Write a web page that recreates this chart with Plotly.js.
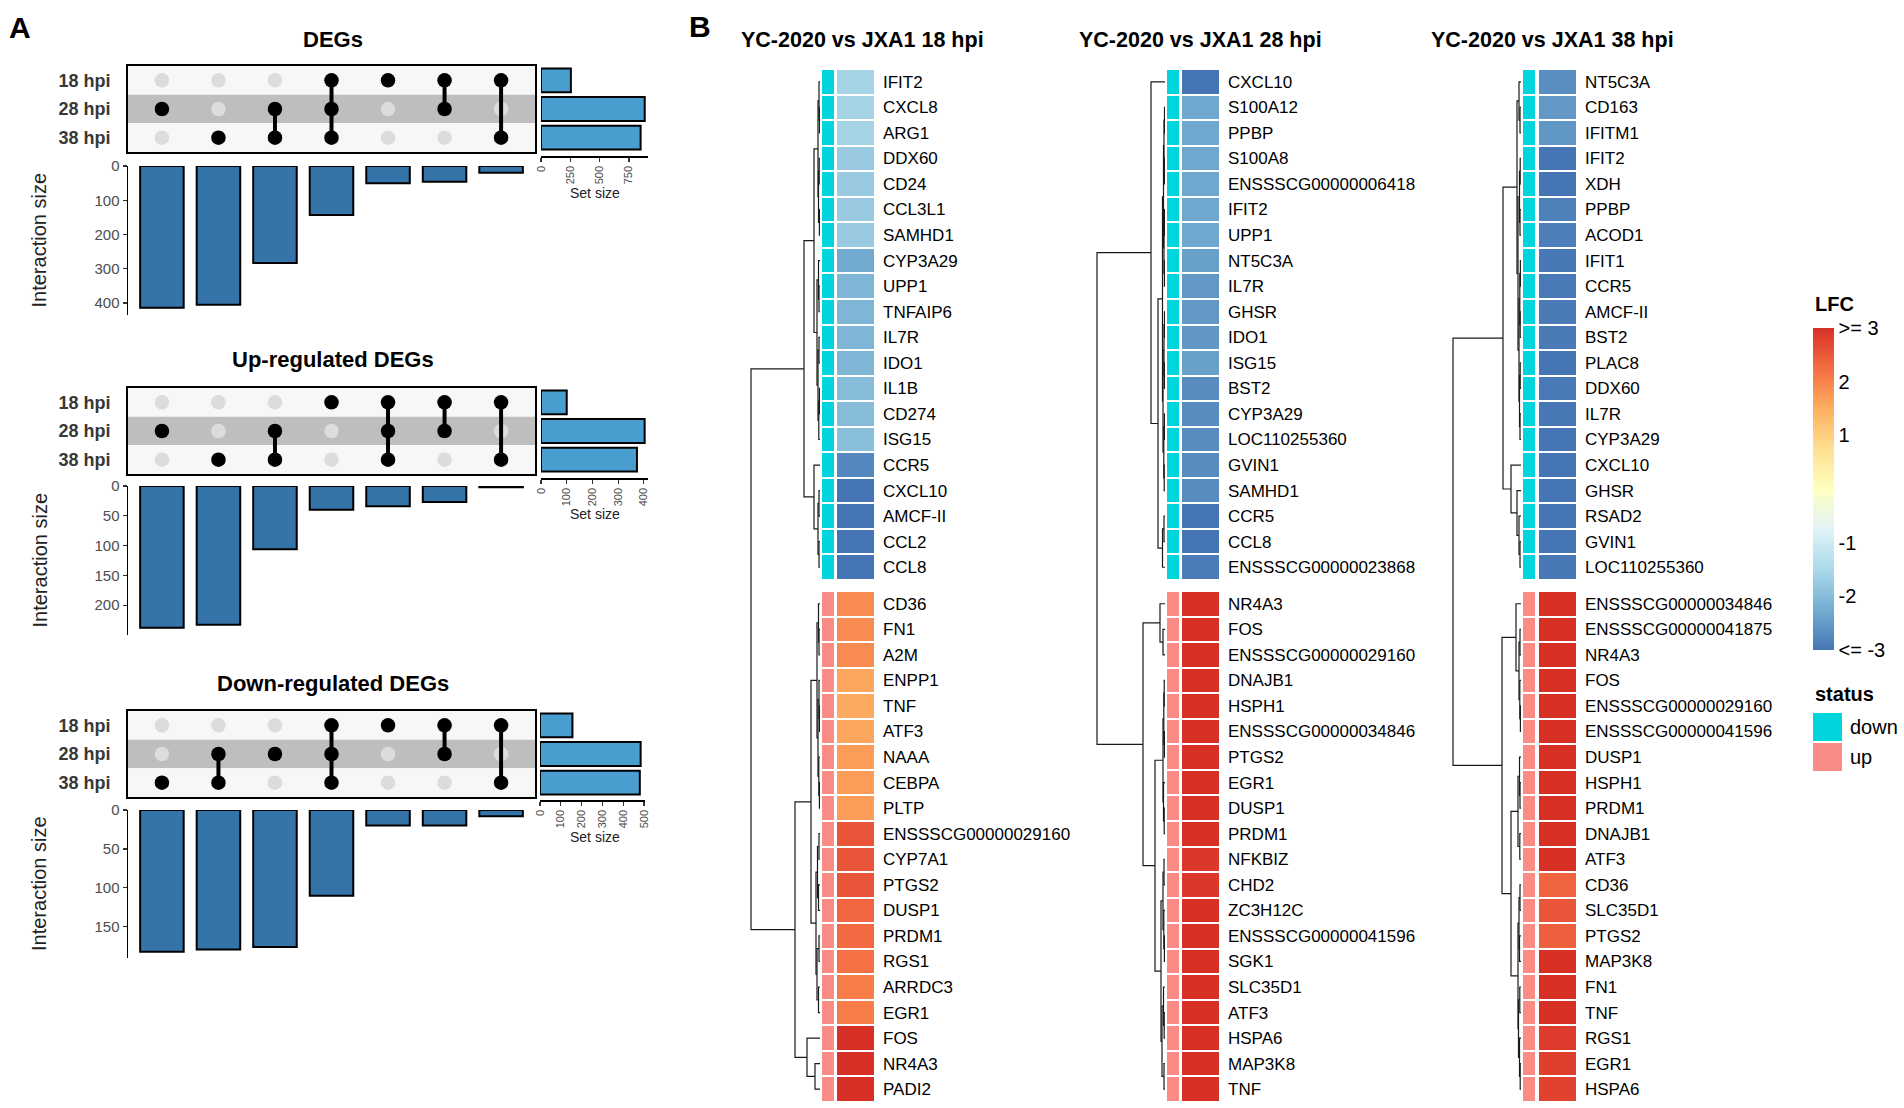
<!DOCTYPE html>
<html><head><meta charset="utf-8">
<script src="https://cdn.plot.ly/plotly-3.0.1.min.js"></script>
<style>html,body{margin:0;padding:0;background:#fff;}#chart{width:1904px;height:1108px;}</style>
</head><body><div id="chart"></div>
<script>
// ================= DATA: panel A (UpSet) =================
const setNames = ['18 hpi', '28 hpi', '38 hpi'];
// DEGs
const degInter = [414, 405, 283, 143, 50, 46, 20];
const degSet = [255, 885, 850];
const deg18 = [0, 0, 0, 1, 1, 1, 1];
const deg28 = [1, 0, 1, 1, 0, 1, 0];
const deg38 = [0, 1, 1, 1, 0, 0, 1];
const degInterTicks = [0, 100, 200, 300, 400];
const degSetTicks = [0, 250, 500, 750];
// Up-regulated
const upInter = [238, 233, 106, 40, 34, 27, 2];
const upSet = [100, 403, 373];
const up18 = [0, 0, 0, 1, 1, 1, 1];
const up28 = [1, 0, 1, 0, 1, 1, 0];
const up38 = [0, 1, 1, 0, 1, 0, 1];
const upInterTicks = [0, 50, 100, 150, 200];
const upSetTicks = [0, 100, 200, 300, 400];
// Down-regulated
const dnInter = [182, 179, 176, 110, 20, 20, 8];
const dnSet = [156, 484, 480];
const dn18 = [0, 0, 0, 1, 1, 1, 1];
const dn28 = [0, 1, 1, 1, 0, 1, 0];
const dn38 = [1, 1, 0, 1, 0, 0, 1];
const dnInterTicks = [0, 50, 100, 150];
const dnSetTicks = [0, 100, 200, 300, 400, 500];

// ================= DATA: panel B (heatmaps) =================
const hm1DownGenes = ['IFIT2','CXCL8','ARG1','DDX60','CD24','CCL3L1','SAMHD1','CYP3A29','UPP1','TNFAIP6','IL7R','IDO1','IL1B','CD274','ISG15','CCR5','CXCL10','AMCF-II','CCL2','CCL8'];
const hm1DownLFC = [-1.6,-1.6,-1.6,-1.75,-1.75,-1.75,-1.75,-2.3,-2.1,-2.1,-2.1,-2.1,-2.0,-2.0,-1.95,-2.75,-3,-3,-3,-3];
const hm1UpGenes = ['CD36','FN1','A2M','ENPP1','TNF','ATF3','NAAA','CEBPA','PLTP','ENSSSCG00000029160','CYP7A1','PTGS2','DUSP1','PRDM1','RGS1','ARRDC3','EGR1','FOS','NR4A3','PADI2'];
const hm1UpLFC = [1.9,1.9,1.9,1.6,1.55,1.6,1.7,1.7,1.7,2.55,2.55,2.55,2.33,2.3,2.2,2.08,2.08,3,3,3];

const hm2DownGenes = ['CXCL10','S100A12','PPBP','S100A8','ENSSSCG00000006418','IFIT2','UPP1','NT5C3A','IL7R','GHSR','IDO1','ISG15','BST2','CYP3A29','LOC110255360','GVIN1','SAMHD1','CCR5','CCL8','ENSSSCG00000023868'];
const hm2DownLFC = [-3,-2.33,-2.33,-2.33,-2.33,-2.33,-2.33,-2.42,-2.54,-2.54,-2.56,-2.42,-2.7,-2.7,-2.7,-2.7,-2.7,-3,-3,-2.9];
const hm2UpGenes = ['NR4A3','FOS','ENSSSCG00000029160','DNAJB1','HSPH1','ENSSSCG00000034846','PTGS2','EGR1','DUSP1','PRDM1','NFKBIZ','CHD2','ZC3H12C','ENSSSCG00000041596','SGK1','SLC35D1','ATF3','HSPA6','MAP3K8','TNF'];
const hm2UpLFC = [3,3,3,3,3,3,3,3,3,3,2.9,2.9,3,3,3,3,3,3,3,3];

const hm3DownGenes = ['NT5C3A','CD163','IFITM1','IFIT2','XDH','PPBP','ACOD1','IFIT1','CCR5','AMCF-II','BST2','PLAC8','DDX60','IL7R','CYP3A29','CXCL10','GHSR','RSAD2','GVIN1','LOC110255360'];
const hm3DownLFC = [-2.67,-2.54,-2.55,-3,-3,-2.85,-2.88,-2.95,-2.93,-2.92,-2.92,-3,-2.93,-2.97,-3,-3,-3,-3,-3,-2.97];
const hm3UpGenes = ['ENSSSCG00000034846','ENSSSCG00000041875','NR4A3','FOS','ENSSSCG00000029160','ENSSSCG00000041596','DUSP1','HSPH1','PRDM1','DNAJB1','ATF3','CD36','SLC35D1','PTGS2','MAP3K8','FN1','TNF','RGS1','EGR1','HSPA6'];
const hm3UpLFC = [3,3,3,3,3,3,3,3,3,3,3,2.35,2.55,2.42,3,3,3,2.85,2.8,2.78];

// dendrograms: [merge height, left, right]; leaves = row index (0-19 down, 20-39 up)
const hm1Tree = [69,
  [16,
    [6, [2, [1, 0, [0.5, 1, 2]], [1.5, [0.8, 3, 4], [0.6, 5, 6]]],
        [3, [1.5, 7, [1, 8, 9]], [2, [1, 10, 11], [1.2, [0.6, 12, 13], 14]]]],
    [6, 15, [2, [1, 16, 17], [1, 18, 19]]]],
  [25,
    [9, [3, [1.5, 20, [1, 21, 22]], [2, [1, 23, [0.5, 24, 25]], [1.2, 26, [0.6, 27, 28]]]],
        [4, [2.5, [1, 29, 30], [1.5, 31, 32]], [3, [1, 33, 34], [1.5, 35, 36]]]],
    [13, 37, [5, 38, 39]]]];
const hm2Tree = [68,
  [14, 0,
    [7, [2.5, [1.5, [1, [0.5, 1, 2], [0.6, 3, 4]], [1, [0.5, 5, 6], [0.6, 7, 8]]],
             [2, [1, [0.5, 9, 10], [0.6, 11, 12]], [1.2, [0.6, 13, 14], [0.8, 15, 16]]]],
        [2.5, [1, 17, 18], 19]]],
  [22,
    [5, 20, [2, 21, 22]],
    [10, [2, [1.2, [0.8, 23, 24], [0.6, 25, 26]], [1.5, 27, [0.8, 28, 29]]],
         [4, [2, [1, 30, 31], [1.2, 32, [0.6, 33, 34]]], [3, [1.5, 35, [0.8, 36, 37]], [1, 38, 39]]]]]];
const hm3Tree = [68,
  [18,
    [4, [2, 0, [1, 1, 2]],
        [3, [1.5, [0.8, 3, 4], [1, 5, 6]], [2, [1.2, [0.6, 7, 8], [0.8, 9, 10]], [1.5, [0.8, 11, 12], [1, 13, 14]]]]],
    [10, 15, [4, 16, [2, 17, [1, 18, 19]]]]],
  [19,
    [5, 20, [2, [1, 21, 22], [1.2, 23, [0.6, 24, 25]]]],
    [10, [3, [1.5, 26, [1, 27, 28]], [1.2, 29, 30]],
         [3, [2, [1, 31, 32], [1.5, 33, 34]], [2.5, [1.2, 35, 36], [1.5, 37, [0.8, 38, 39]]]]]]];

const lfcTickVals = [3, 2, 1, -1, -2, -3];
const lfcTickText = ['&gt;= 3', '2', '1', '-1', '-2', '&lt;= -3'];
const statusNames = ['down', 'up'];

// ================= STYLE / LAYOUT HELPERS =================
const W = 1904, H = 1108;
const FONT = 'Liberation Sans, Arial, Helvetica, sans-serif';
const dx = (a, b) => [a / W, b / W];
const dy = (top, bot) => [1 - bot / H, 1 - top / H];
const xn = i => i === 1 ? 'x' : 'x' + i;
const yn = i => i === 1 ? 'y' : 'y' + i;
const xk = i => i === 1 ? 'xaxis' : 'xaxis' + i;
const yk = i => i === 1 ? 'yaxis' : 'yaxis' + i;
const CYAN = '#00D5DD', PINK = '#FA8B85';
const lfcScale = [[0, '#4575b4'], [0.125, '#74add1'], [0.25, '#abd9e9'], [0.375, '#e0f3f8'], [0.5, '#ffffbf'],
                  [0.625, '#fee090'], [0.75, '#fdae61'], [0.875, '#f46d43'], [1, '#d73027']];
const statusScale = [[0, CYAN], [0.5, CYAN], [0.5, PINK], [1, PINK]];

const traces = [];
const layout = {
  width: W, height: H, margin: {l: 0, r: 0, t: 0, b: 0},
  paper_bgcolor: '#fff', plot_bgcolor: 'rgba(0,0,0,0)',
  showlegend: false, hovermode: false,
  font: {family: FONT, color: '#000'},
  shapes: [], annotations: []
};
function ann(text, x, y, size, extra) {
  layout.annotations.push(Object.assign({
    text, x: x / W, y: 1 - y / H, xref: 'paper', yref: 'paper', showarrow: false,
    xanchor: 'center', yanchor: 'middle', font: {family: FONT, size, color: '#000'}
  }, extra || {}));
}

// ================= PANEL A =================
function addUpset(k, inter, sets, mem, interTicks, interMax, setTicks, setMax, P) {
  const m = 3 * k + 1, s = 3 * k + 2, it = 3 * k + 3;
  const cols = inter.map((_, i) => i + 1);
  const rows = setNames.map((_, i) => i + 1);
  const mx = dx(128, 535);
  layout[xk(m)] = {domain: mx, range: [0.4, cols.length + 0.6], anchor: yn(m), showline: true, mirror: true,
    linewidth: 2, linecolor: '#000', showticklabels: false, ticks: '', showgrid: false, zeroline: false};
  layout[yk(m)] = {domain: dy(P.mTop, P.mBot), range: [rows.length + 0.5, 0.5], anchor: xn(m), showline: true,
    mirror: true, linewidth: 2, linecolor: '#000', ticks: '', showgrid: false, zeroline: false,
    tickvals: rows, ticktext: setNames.map(t => '<b>' + t + '</b>'), ticklabelstandoff: 12,
    tickfont: {family: FONT, size: 18, color: '#383838'}};
  rows.forEach(r => layout.shapes.push({type: 'rect', xref: xn(m) + ' domain', yref: yn(m), x0: 0, x1: 1,
    y0: r - 0.5, y1: r + 0.5, fillcolor: r === 2 ? '#bebebe' : '#f7f7f7', line: {width: 0}, layer: 'below'}));
  const ix = [], iy = [], ax = [], ay = [], lx = [], ly = [];
  cols.forEach((c, j) => {
    const act = [];
    mem.forEach((row, r) => {
      if (row[j]) { ax.push(c); ay.push(r + 1); act.push(r + 1); } else { ix.push(c); iy.push(r + 1); }
    });
    if (act.length > 1) { lx.push(c, c, null); ly.push(Math.min(...act), Math.max(...act), null); }
  });
  traces.push({type: 'scatter', mode: 'markers', x: ix, y: iy, xaxis: xn(m), yaxis: yn(m),
    marker: {size: 14.5, color: '#dcdcdc'}, cliponaxis: false});
  traces.push({type: 'scatter', mode: 'lines', x: lx, y: ly, xaxis: xn(m), yaxis: yn(m),
    line: {color: '#000', width: 4}});
  traces.push({type: 'scatter', mode: 'markers', x: ax, y: ay, xaxis: xn(m), yaxis: yn(m),
    marker: {size: 14.5, color: '#000'}});
  layout[xk(s)] = {domain: dx(P.sLeft, P.sRight), range: [0, setMax], anchor: 'free', position: 1 - P.sAxis / H,
    showline: true, linewidth: 1.5, linecolor: '#000', ticks: 'outside', ticklen: 4, tickwidth: 1.2,
    tickcolor: '#333', tickvals: setTicks, tickangle: -90, tickfont: {family: FONT, size: 11, color: '#4d4d4d'},
    showgrid: false, zeroline: false};
  layout[yk(s)] = {domain: dy(P.mTop, P.mBot), range: [rows.length + 0.5, 0.5], anchor: xn(s), visible: false};
  traces.push({type: 'bar', orientation: 'h', x: sets, y: rows, width: 0.83, xaxis: xn(s), yaxis: yn(s),
    marker: {color: '#4A9ECF', line: {color: '#000', width: 2}}});
  layout[xk(it)] = {domain: mx, range: [0.4, cols.length + 0.6], anchor: yn(it), visible: false};
  layout[yk(it)] = {domain: dy(P.iTop, P.iBot), range: [interMax, 0], anchor: xn(it), showline: true,
    linewidth: 1.5, linecolor: '#000', ticks: 'outside', ticklen: 4, tickwidth: 1.2, tickcolor: '#333',
    tickvals: interTicks, tickfont: {family: FONT, size: 15, color: '#4d4d4d'}, showgrid: false, zeroline: false};
  traces.push({type: 'bar', x: cols, y: inter, width: 0.77, xaxis: xn(it), yaxis: yn(it),
    marker: {color: '#3474A9', line: {color: '#000', width: 2}}});
  ann('<b>' + P.title + '</b>', 333, P.titleY, 22);
  ann('Interaction size', 39, (P.iTop + P.iBot) / 2, 20, {textangle: -90, font: {family: FONT, size: 20, color: '#222'}});
  ann('Set size', 595, P.setLabelY, 14, {font: {family: FONT, size: 14, color: '#222'}});
}
addUpset(0, degInter, degSet, [deg18, deg28, deg38], degInterTicks, 435, degSetTicks, 913,
  {mTop: 66, mBot: 152, sAxis: 156, iTop: 166, iBot: 315, sLeft: 541, sRight: 648, titleY: 40, setLabelY: 193, title: 'DEGs'});
addUpset(1, upInter, upSet, [up18, up28, up38], upInterTicks, 250, upSetTicks, 416,
  {mTop: 388, mBot: 474, sAxis: 478, iTop: 486, iBot: 635, sLeft: 541, sRight: 648, titleY: 360, setLabelY: 514, title: 'Up-regulated DEGs'});
addUpset(2, dnInter, dnSet, [dn18, dn28, dn38], dnInterTicks, 190, dnSetTicks, 505,
  {mTop: 711, mBot: 797, sAxis: 800, iTop: 810, iBot: 958, sLeft: 540, sRight: 645, titleY: 683, setLabelY: 837, title: 'Down-regulated DEGs'});

// ================= PANEL B =================
const GAP = 0.43;
const rowPos = i => i < 20 ? i : i + GAP;
function dendroLines(tree) {
  const xs = [], ys = [];
  (function walk(n) {
    if (typeof n === 'number') return {y: rowPos(n), h: 0};
    const a = walk(n[1]), b = walk(n[2]), h = n[0];
    xs.push(a.h, h, h, b.h, null); ys.push(a.y, a.y, b.y, b.y, null);
    return {y: (a.y + b.y) / 2, h};
  })(tree);
  return {xs, ys};
}
function addHeatmap(idx, downGenes, downLFC, upGenes, upLFC, tree, P) {
  const xd = 10 + idx * 3, xs = xd + 1, xl = xd + 2, yy = 10 + idx;
  const downPos = downGenes.map((_, i) => rowPos(i));
  const upPos = upGenes.map((_, i) => rowPos(i + downGenes.length));
  const yDom = dy(69, 1102);
  layout[yk(yy)] = {domain: yDom, range: [39.5 + GAP, -0.5], anchor: xn(xl), side: 'right',
    tickvals: downPos.concat(upPos), ticktext: downGenes.concat(upGenes), ticks: '', showline: false,
    showgrid: false, zeroline: false, ticklabelstandoff: 8, tickfont: {family: FONT, size: 17, color: '#000'}};
  layout[xk(xd)] = {domain: dx(P.leaf - 75, P.leaf), range: [75, 0], anchor: yn(yy), visible: false};
  layout[xk(xs)] = {domain: dx(P.st, P.st + 12), range: [-0.5, 0.5], anchor: yn(yy), visible: false};
  layout[xk(xl)] = {domain: dx(P.lf, P.lf + 37), range: [-0.5, 0.5], anchor: yn(yy), visible: false};
  const d = dendroLines(tree);
  traces.push({type: 'scatter', mode: 'lines', x: d.xs, y: d.ys, xaxis: xn(xd), yaxis: yn(yy),
    line: {color: '#1a1a1a', width: 1.2}, cliponaxis: false});
  [[downPos, 0], [upPos, 1]].forEach(([pos, st]) => {
    traces.push({type: 'heatmap', x: [0], y: pos, z: pos.map(() => [st]), zmin: 0, zmax: 1,
      colorscale: statusScale, showscale: false, ygap: 2, xaxis: xn(xs), yaxis: yn(yy)});
  });
  [[downPos, downLFC], [upPos, upLFC]].forEach(([pos, v], bi) => {
    const t = {type: 'heatmap', x: [0], y: pos, z: v.map(q => [q]), zmin: -3, zmax: 3, colorscale: lfcScale,
      showscale: false, ygap: 2, xaxis: xn(xl), yaxis: yn(yy)};
    if (idx === 0 && bi === 0) {
      t.showscale = true;
      t.colorbar = {x: 1813 / W, xanchor: 'left', y: 1 - 328 / H, yanchor: 'top', len: 322, lenmode: 'pixels',
        thickness: 21, thicknessmode: 'pixels', outlinewidth: 0, ticks: '', xpad: 0, ypad: 0,
        tickvals: lfcTickVals, ticktext: lfcTickText, tickfont: {family: FONT, size: 20, color: '#000'}};
    }
    traces.push(t);
  });
  ann('<b>' + P.title + '</b>', P.tx, 40, 21.5);
}
addHeatmap(0, hm1DownGenes, hm1DownLFC, hm1UpGenes, hm1UpLFC, hm1Tree, {leaf: 820, st: 822, lf: 837, tx: 862, title: 'YC-2020 vs JXA1 18 hpi'});
addHeatmap(1, hm2DownGenes, hm2DownLFC, hm2UpGenes, hm2UpLFC, hm2Tree, {leaf: 1165, st: 1167, lf: 1182, tx: 1200, title: 'YC-2020 vs JXA1 28 hpi'});
addHeatmap(2, hm3DownGenes, hm3DownLFC, hm3UpGenes, hm3UpLFC, hm3Tree, {leaf: 1521, st: 1523, lf: 1539, tx: 1552, title: 'YC-2020 vs JXA1 38 hpi'});

// status legend
layout[xk(19)] = {domain: dx(1813, 1842), range: [-0.5, 0.5], anchor: yn(13), visible: false};
layout[yk(13)] = {domain: dy(712, 772), range: [1.5, -0.5], anchor: xn(19), side: 'right', tickvals: [0, 1],
  ticktext: statusNames, ticks: '', showline: false, showgrid: false, zeroline: false, ticklabelstandoff: 7,
  tickfont: {family: FONT, size: 20, color: '#000'}};
traces.push({type: 'heatmap', x: [0], y: [0, 1], z: [[0], [1]], zmin: 0, zmax: 1, colorscale: statusScale,
  showscale: false, ygap: 2, xaxis: xn(19), yaxis: yn(13)});

ann('<b>LFC</b>', 1813, 304, 20, {xanchor: 'left'});
ann('<b>status</b>', 1813, 694, 20, {xanchor: 'left'});
ann('<b>A</b>', 20, 27, 30);
ann('<b>B</b>', 700, 26, 30);

Plotly.newPlot('chart', traces, layout, {staticPlot: true, displayModeBar: false});
</script></body></html>
